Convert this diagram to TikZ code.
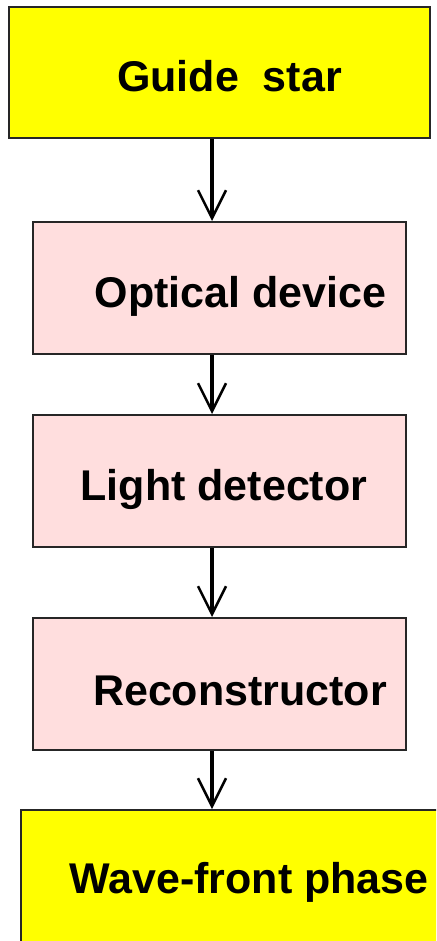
\documentclass[tikz,border=0pt]{standalone}
\usepackage{fontspec}
\setmainfont{Liberation Sans}
\usetikzlibrary{arrows.meta}
\definecolor{boxyellow}{RGB}{255,255,0}
\definecolor{boxpink}{RGB}{255,222,222}
\tikzset{
  box/.style={draw=black!85, line width=2pt, rectangle, inner sep=0pt},
  ybox/.style={box, fill=boxyellow},
  pbox/.style={box, fill=boxpink, minimum width=373pt, minimum height=132pt},
  lbl/.style={anchor=base, inner sep=0pt, font=\fontsize{43}{50}\selectfont\bfseries},
  flow/.style={line width=3.5pt, -{Straight Barb[length=28pt,width=28pt,line width=2.5pt]}}
}
\begin{document}
\begin{tikzpicture}[x=1pt,y=-1pt]
\useasboundingbox (0,0) rectangle (436,941);
\fill[white] (0,0) rectangle (436,941);
\clip (0,0) rectangle (436,941);
\node[ybox, minimum width=421pt, minimum height=131pt] (gs) at (219.5,72.5) {};
\node[pbox] (od) at (219.5,288) {};
\node[pbox] (ld) at (219.5,481) {};
\node[pbox] (rc) at (219.5,684) {};
\node[ybox, minimum width=430pt, minimum height=160pt] (wf) at (236,890) {};
\node[lbl] (gsT) at (229.5,92) {Guide~~star};
\node[lbl] (odT) at (240.5,307) {Optical device};
\node[lbl] (ldT) at (224,500) {Light detector};
\node[lbl] (rcT) at (240,705) {Reconstructor};
\node[lbl] (wfT) at (249,893) {Wave-front phase};
\draw[flow] ([xshift=-7.5pt]gs.south) -- ([xshift=-7.5pt]od.north);
\draw[flow] ([xshift=-7.5pt]od.south) -- ([xshift=-7.5pt]ld.north);
\draw[flow] ([xshift=-7.5pt]ld.south) -- ([xshift=-7.5pt]rc.north);
\draw[flow] ([xshift=-7.5pt]rc.south) -- ([xshift=-7.5pt]wf.north -| rc.south);
\end{tikzpicture}
\end{document}
